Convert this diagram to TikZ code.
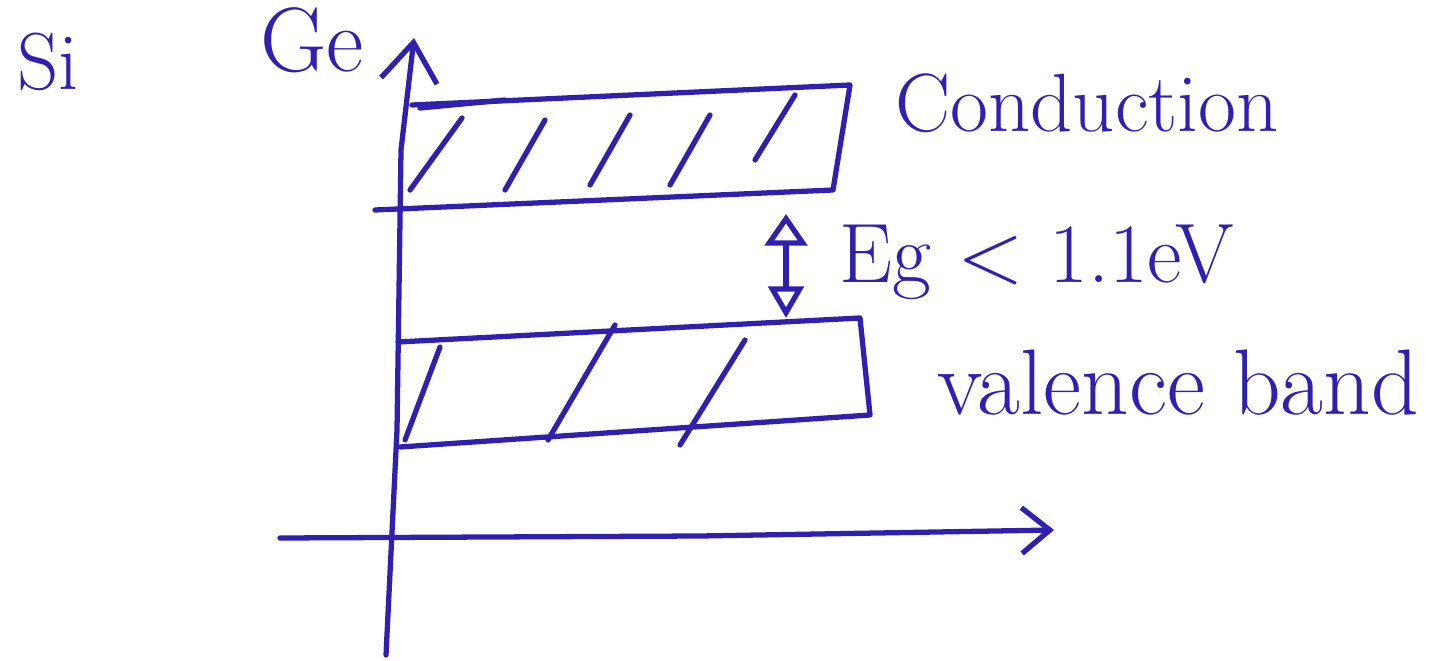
\documentclass[tikz,border=0pt]{standalone}
\usetikzlibrary{arrows.meta}
\definecolor{ink}{RGB}{48,32,176}
\begin{document}
\begin{tikzpicture}[x=0.01cm, y=-0.01cm, ink, line width=1.5pt, line cap=round, line join=round,
    lbl/.style={font=\fontsize{23}{27}\selectfont, text=ink, inner sep=0pt}]
    \useasboundingbox (0,0) rectangle (1434,661);

    % Labels top left
    \node[lbl] (si) at (48,62) {Si};
    \node[lbl, font=\fontsize{26}{30}\selectfont] (ge) at (312,40) {Ge};

    % Axes
    \coordinate (yb) at (386,655);
    \coordinate (yt) at (414,38);
    \coordinate (xl) at (280,538);
    \coordinate (xr) at (1054,530);
    \draw[-{Straight Barb[length=11pt,width=16pt]}] (yb) -- (397,430) -- (401,150) -- (yt);
    \draw[-{Straight Barb[length=8pt,width=13pt]}] (xl) -- (700,536) -- (xr);

    % Conduction band
    \coordinate (c1) at (412,105);
    \coordinate (c2) at (850,85);
    \coordinate (c3) at (833,190);
    \coordinate (c4) at (375,210);
    \draw (c1) -- (c2) -- (c3) -- (c4);
    \draw (420,108) -- (505,100);
    \foreach \xa/\ya/\xb/\yb in {410/190/462/118, 505/190/545/120, 590/185/630/115, 670/185/710/115, 755/160/795/95} {
        \draw (\xa,\ya) -- (\xb,\yb);
    }

    % Valence band
    \coordinate (v1) at (398,342);
    \coordinate (v2) at (860,318);
    \coordinate (v3) at (870,415);
    \coordinate (v4) at (400,447);
    \draw (v1) -- (v2) -- (v3) -- (v4);
    \foreach \xa/\ya/\xb/\yb in {405/440/440/347, 548/440/615/325, 680/445/745/340} {
        \draw (\xa,\ya) -- (\xb,\yb);
    }

    % Gap
    \coordinate (gtop) at (786,214);
    \coordinate (gbot) at (786,318);
    \draw[{Triangle[open,length=9pt,width=12pt]}-{Triangle[open,length=9pt,width=10pt]}] (gtop) -- (gbot);

    % Right labels
    \node[lbl, font=\fontsize{23.5}{27}\selectfont] (cond) at (1087,103) {Conduction};
    \node[lbl, font=\fontsize{24}{28}\selectfont] (eg) at (1037,262) {Eg $<$ 1.1eV};
    \node[lbl, font=\fontsize{26.5}{30}\selectfont] (val) at (1178,383) {valence band};
\end{tikzpicture}
\end{document}
